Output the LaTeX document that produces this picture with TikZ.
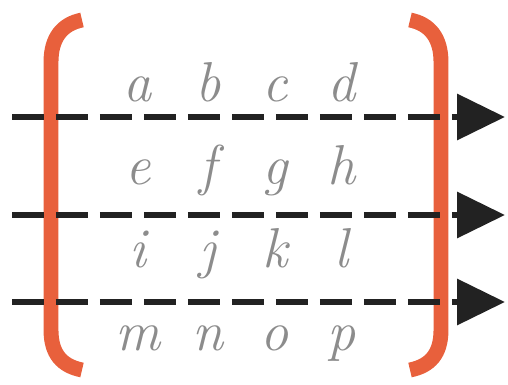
\documentclass[tikz,border=0pt]{standalone}
\usepackage{fontspec}
\usepackage{xcolor}
\usetikzlibrary{arrows.meta}
\definecolor{bracketorange}{HTML}{E8603C}
\definecolor{entrygray}{HTML}{8C8C8C}
\definecolor{arrowblack}{HTML}{222222}

\begin{document}
\begin{tikzpicture}[
  x=0.02cm, y=-0.02cm,
  entry/.style={anchor=base, inner sep=0pt, text=entrygray,
    font=\fontsize{32}{34}\selectfont\itshape},
  bracket/.style={line width=8.5pt, color=bracketorange},
  rowarrow/.style={line width=3.8pt, color=arrowblack,
    dash pattern=on 0.64cm off 0.24cm,
    -{Triangle[length=0.96cm, width=0.9cm]}},
]
\useasboundingbox (0,0) rectangle (508,385);

% Brackets
\draw[bracket] (82,20) .. controls (62,24) and (51,38) .. (51,62)
  -- (51,330) .. controls (51,354) and (62,366) .. (82,370);
\draw[bracket] (410,20) .. controls (430,24) and (441,38) .. (441,62)
  -- (441,330) .. controls (441,354) and (430,366) .. (410,370);

% Entries
\foreach \ea/\eb/\ec/\ed [count=\r] in {a/b/c/d, e/f/g/h, i/j/k/l, m/n/o/p} {
  \pgfmathsetmacro{\base}{19 + 83*\r}
  \node[entry] (\ea) at (138,\base) {\ea};
  \node[entry] (\eb) at (208,\base) {\eb};
  \node[entry] (\ec) at (275,\base) {\ec};
  \node[entry] (\ed) at (342,\base) {\ed};
}

% Row arrows
\coordinate (in1)  at (12,117);
\coordinate (out1) at (505,117);
\coordinate (in2)  at (12,215);
\coordinate (out2) at (505,215);
\coordinate (in3)  at (12,302);
\coordinate (out3) at (505,302);
\draw[rowarrow] (in1) -- (out1);
\draw[rowarrow] (in2) -- (out2);
\draw[rowarrow] (in3) -- (out3);

\end{tikzpicture}
\end{document}
